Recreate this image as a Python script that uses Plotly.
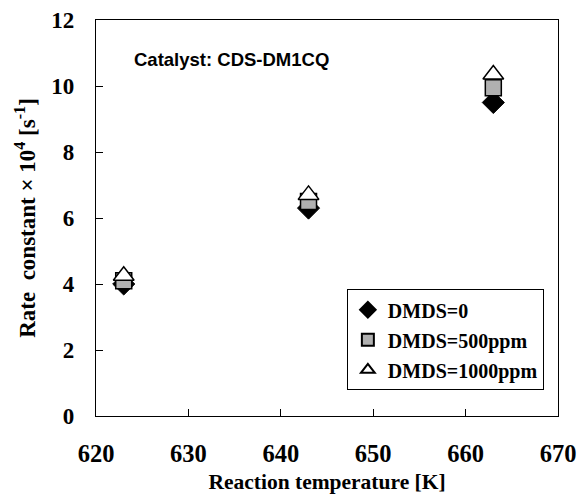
import plotly.graph_objects as go

temps = [623, 643, 663]
dmds_0 = [4.0, 6.3, 9.5]
dmds_500 = [4.1, 6.5, 9.95]
dmds_1000 = [4.25, 6.7, 10.35]
x_ticks = [620, 630, 640, 650, 660, 670]
y_ticks = [0, 2, 4, 6, 8, 10, 12]

serif = "Liberation Serif, Times New Roman, serif"

fig = go.Figure()
fig.add_trace(go.Scatter(x=temps, y=dmds_0, mode="markers", name="DMDS=0", legendgroup="a",
                         marker=dict(symbol="diamond", size=17, color="black",
                                     line=dict(color="black", width=1))))
fig.add_trace(go.Scatter(x=temps, y=dmds_500, mode="markers", name="DMDS=500ppm", legendgroup="b",
                         marker=dict(symbol="square", size=16, color="#b0b0b0",
                                     line=dict(color="black", width=1.5))))
fig.add_trace(go.Scatter(x=temps, y=dmds_1000, mode="markers", name="DMDS=1000ppm", legendgroup="c",
                         marker=dict(symbol="triangle-up", size=18, color="white",
                                     line=dict(color="black", width=1.5))))

fig.add_annotation(x=623.9, y=10.8, xref="x", yref="y", text="Catalyst: CDS-DM1CQ",
                   showarrow=False, xanchor="left", yanchor="middle",
                   font=dict(family="Liberation Sans, Arial, sans-serif", size=18.5,
                             color="black", weight="bold"))

axis_common = dict(showline=True, linecolor="black", linewidth=1.2, mirror=True,
                   ticks="inside", ticklen=7, tickcolor="black", showgrid=False,
                   zeroline=False, ticklabeloverflow="allow", automargin=False)

fig.update_xaxes(range=[620, 670], tickvals=x_ticks, ticktext=[str(v) for v in x_ticks],
                 ticklabelstandoff=15,
                 tickfont=dict(family=serif, size=24.5, color="black", weight="bold"),
                 title=dict(text="Reaction temperature [K]", standoff=8,
                            font=dict(family=serif, size=21.5, color="black", weight="bold")),
                 **axis_common)
fig.update_yaxes(range=[0, 12], tickvals=y_ticks, ticktext=[str(v) for v in y_ticks],
                 ticklabelstandoff=16,
                 tickfont=dict(family=serif, size=23, color="black", weight="bold"),
                 title=dict(text="Rate  constant × 10<sup>4</sup> [s<sup>-1</sup>]", standoff=9,
                            font=dict(family=serif, size=23, color="black", weight="bold")),
                 **axis_common)

fig.update_layout(
    width=577, height=504,
    margin=dict(l=96, r=19, t=20, b=88, autoexpand=False),
    plot_bgcolor="white", paper_bgcolor="white",
    legend=dict(x=0.543, y=0.32, xanchor="left", yanchor="top",
                bordercolor="black", borderwidth=1, bgcolor="white",
                font=dict(family=serif, size=20, color="black", weight="bold"),
                itemsizing="constant", tracegroupgap=1),
    showlegend=True,
)

fig.write_html("out.html")
